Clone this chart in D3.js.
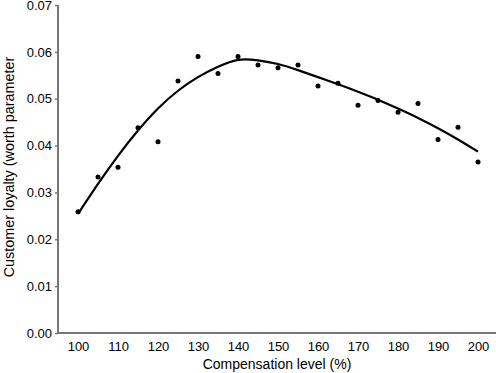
<!DOCTYPE html>
<html>
<head>
<meta charset="utf-8">
<script src="https://cdn.jsdelivr.net/npm/d3@7"></script>
<style>
  body { margin: 0; background: #fff; }
  svg { display: block; font-family: "Liberation Sans", Arial, sans-serif; }
</style>
</head>
<body>
<svg id="chart" width="496" height="373"></svg>
<script>
// observed points
const compensation = [100, 105, 110, 115, 120, 125, 130, 135, 140, 145, 150,
  155, 160, 165, 170, 175, 180, 185, 190, 195, 200];
const loyalty = [0.0259, 0.0333, 0.0354, 0.0438, 0.0408, 0.0538, 0.0590,
  0.0554, 0.0590, 0.0572, 0.0566, 0.0572, 0.0527, 0.0533, 0.0486, 0.0496,
  0.0471, 0.0490, 0.0413, 0.0439, 0.0365];

// smoothed fit line
const fitX = [100, 105, 110, 115, 120, 125, 130, 135, 140, 145, 150, 155,
  160, 165, 170, 175, 180, 185, 190, 195, 200];
const fitY = [0.0254, 0.0318, 0.0378, 0.0432, 0.0479, 0.0517, 0.0546,
  0.0568, 0.0583, 0.0582, 0.0574, 0.0561, 0.0546, 0.0531, 0.0515, 0.0498,
  0.0479, 0.0459, 0.0437, 0.0413, 0.0387];

const yTicks = [0, 0.01, 0.02, 0.03, 0.04, 0.05, 0.06, 0.07];
const xTicks = [100, 110, 120, 130, 140, 150, 160, 170, 180, 190, 200];

const svg = d3.select("#chart");
const axisColor = "#777";

const x = d3.scaleLinear().domain([100, 200]).range([78, 478]);
const y = d3.scaleLinear().domain([0, 0.07]).range([333, 5]);

// y axis
const yAxis = svg.append("g")
  .attr("transform", "translate(58,0)")
  .call(d3.axisLeft(y).tickValues(yTicks).tickFormat(d3.format(".2f"))
    .tickSize(3).tickPadding(3));
yAxis.select(".domain").remove();
yAxis.selectAll(".tick line").attr("stroke", axisColor).attr("stroke-width", 1.5);
yAxis.selectAll(".tick text").attr("fill", "#000").style("font-size", "13px");

svg.append("line")
  .attr("x1", 58).attr("x2", 58)
  .attr("y1", y(0.07)).attr("y2", y(0) + 1)
  .attr("stroke", axisColor).attr("stroke-width", 2);

// x axis (no tick marks)
const xAxis = svg.append("g")
  .attr("transform", "translate(0,333)")
  .call(d3.axisBottom(x).tickValues(xTicks).tickSize(0).tickPadding(9));
xAxis.select(".domain").remove();
xAxis.selectAll(".tick text").attr("fill", "#000").style("font-size", "13px");

svg.append("line")
  .attr("x1", 57).attr("x2", 496)
  .attr("y1", 333).attr("y2", 333)
  .attr("stroke", axisColor).attr("stroke-width", 2);

// labels
svg.append("text")
  .attr("x", 277).attr("y", 369)
  .attr("text-anchor", "middle")
  .style("font-size", "14px")
  .text("Compensation level (%)");

svg.append("text")
  .attr("transform", "translate(14,167) rotate(-90)")
  .attr("text-anchor", "middle")
  .style("font-size", "14.4px")
  .text("Customer loyalty (worth parameter");

// fit line
const line = d3.line()
  .x((d, i) => x(fitX[i]))
  .y((d) => y(d))
  .curve(d3.curveNatural);

svg.append("path")
  .attr("d", line(fitY))
  .attr("fill", "none")
  .attr("stroke", "#000")
  .attr("stroke-width", 2.2);

// points
svg.selectAll("circle.pt")
  .data(loyalty)
  .join("circle")
  .attr("class", "pt")
  .attr("cx", (d, i) => x(compensation[i]))
  .attr("cy", (d) => y(d))
  .attr("r", 2.5)
  .attr("fill", "#000");
</script>
</body>
</html>
